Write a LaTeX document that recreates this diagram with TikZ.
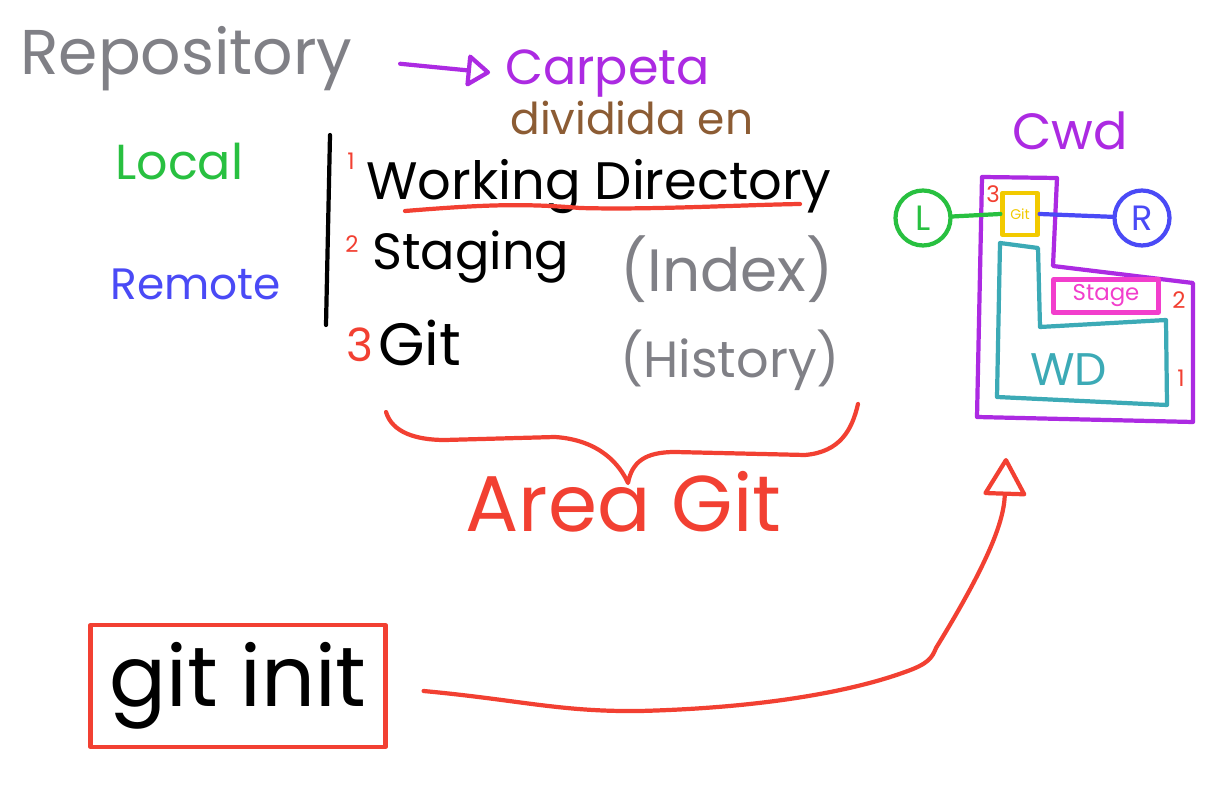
\documentclass[tikz,border=0pt]{standalone}
\usepackage{fontspec}
\setmainfont{Poppins}
\usepackage{tikz}
\usepackage{xcolor}
\usetikzlibrary{positioning, arrows.meta}

\definecolor{penred}{RGB}{242,64,50}
\definecolor{pengray}{RGB}{128,128,134}
\definecolor{penpurple}{RGB}{172,42,226}
\definecolor{penbrown}{RGB}{140,92,52}
\definecolor{pengreen}{RGB}{40,192,64}
\definecolor{penblue}{RGB}{74,74,246}
\definecolor{penteal}{RGB}{60,170,182}
\definecolor{penpink}{RGB}{242,62,204}
\definecolor{penyellow}{RGB}{242,202,0}

\tikzset{
  pen/.style={line width=2.4pt, line cap=round, line join=round},
  word/.style={anchor=base west, inner sep=0pt},
  sz/.style={font=\fontsize{#1}{#1}\selectfont},
  small/.style={font=\fontsize{13}{15}\selectfont},
  tiny/.style={font=\fontsize{8}{9}\selectfont},
  penarrow/.style={pen, -{Triangle[open, length=0.8cm, width=0.9cm, round]}},
}

\begin{document}
\begin{tikzpicture}[x=0.02cm, y=-0.02cm]
  \fill[white] (0,0) rectangle (1224,786);
  \useasboundingbox (0,0) rectangle (1224,786);

  % titles
  \node[word, sz=36, pengray] (repo) at (20,75) {Repository};
  \node[word, sz=28, penpurple] (carpeta) at (505,85) {Carpeta};
  \node[word, sz=25, penbrown] (dividida) at (510,135) {dividida en};
  \draw[pen, penpurple, -{Triangle[open, length=0.5cm, width=0.7cm, round]}, shorten <=0.95cm, shorten >=0.3cm] (repo.east) -- (carpeta.west);

  \node[word, sz=28, pengreen] (local) at (115,180) {Local};
  \node[word, sz=25, penblue] (remote) at (110,300) {Remote};

  % the three areas
  \draw[pen] (330,135) -- (326,325);
  \node[word, small, penred] (n1) at (347,170) {1};
  \node[word, sz=30] (wdir) at (366,200) {Working Directory};
  \draw[pen, penred] (405,211) .. controls (480,205) and (520,203) .. (580,208) .. controls (650,210) and (740,205) .. (800,204);
  \node[word, small, penred] (n2) at (345,253) {2};
  \node[word, sz=29] (staging) at (372,270) {Staging};
  \node[word, sz=34, pengray] (index) at (620,292) {(Index)};
  \node[word, sz=26, penred] (n3) at (346,362) {3};
  \node[word, sz=34] (git) at (378,366) {Git};
  \node[word, sz=29, pengray] (history) at (620,378) {(History)};

  % brace
  \draw[pen, penred] (386,412) .. controls (392,432) and (415,440) .. (445,440) -- (555,437)
    .. controls (600,440) and (620,465) .. (628,483) .. controls (632,462) and (645,452) .. (675,452)
    -- (805,455) .. controls (840,452) and (852,430) .. (858,404);
  \node[word, sz=45, penred] (area) at (465,532) {Area Git};

  % command
  \node[draw=penred, pen, minimum width=5.9cm, minimum height=2.44cm, inner sep=0pt, sz=48] (gitinit) at (238,686) {git init};
  \coordinate (cwdtip) at (1006,458);
  \draw[penarrow, penred] ([xshift=0.72cm, yshift=-0.1cm]gitinit.east)
    .. controls (520,700) and (560,712) .. (640,711)
    .. controls (760,708) and (850,692) .. (905,672)
    .. controls (928,664) and (932,658) .. (936,648)
    .. controls (990,560) and (1004,520) .. (cwdtip);

  % cwd sketch
  \node[word, sz=29, penpurple] (cwd) at (1012,150) {Cwd};
  \draw[pen, penpurple] (982,177) -- (1057,178) -- (1053,266) -- (1193,283) -- (1193,422) -- (977,417) -- cycle;
  \draw[pen, penteal] (1000,243) -- (1038,248) -- (1040,327) -- (1166,320) -- (1167,405) -- (997,397) -- cycle;
  \node[word, sz=26, penteal] (wdlabel) at (1030,386) {WD};
  \node[draw=penpink, pen, minimum width=2.1cm, minimum height=0.66cm, inner sep=0pt, small, penpink] (stage) at (1106,296) {Stage};
  \node[small, penred, inner sep=0pt] (r2) at (1179,300) {2};
  \node[small, penred, inner sep=0pt] (r1) at (1181,378) {1};
  \node[small, penred, inner sep=0pt] (r3) at (993,194) {3};
  \node[draw=penyellow, pen, minimum width=0.7cm, minimum height=0.84cm, inner sep=0pt, tiny, penyellow] (gitbox) at (1020,214) {Git};
  \node[circle, draw=pengreen, pen, minimum size=1.1cm, inner sep=0pt, sz=20, pengreen] (lnode) at (923,218) {L};
  \node[circle, draw=penblue, pen, minimum size=1.1cm, inner sep=0pt, sz=20, penblue] (rnode) at (1142,218) {R};
  \draw[pen, pengreen] (lnode) -- (gitbox.west);
  \draw[pen, penblue] (gitbox.east) -- (rnode);
\end{tikzpicture}
\end{document}
